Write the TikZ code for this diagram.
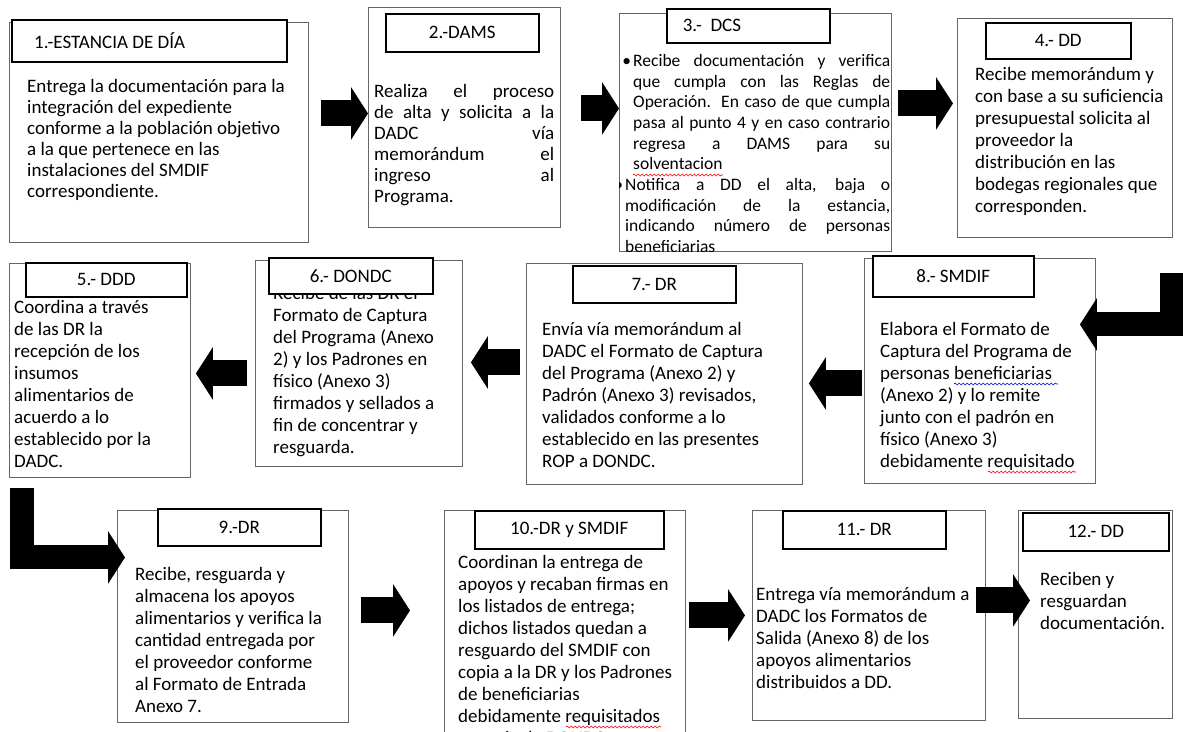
\documentclass[tikz,border=0pt]{standalone}
\usepackage{fontspec}
\setmainfont{Carlito}
\usetikzlibrary{arrows.meta, decorations.pathmorphing}
\setlength{\parindent}{0pt}

\begin{document}
\begin{tikzpicture}[
    x=1pt, y=-1pt,
    stepframe/.style={draw=black!60, line width=0.9pt, anchor=north west, inner sep=0pt},
    stephead/.style={draw=black, line width=1.5pt, fill=white, anchor=north west, inner sep=0pt, font=\fontsize{19}{22}\selectfont},
    steptext/.style={anchor=north west, inner sep=0pt, align=left, font=\fontsize{19}{22}\selectfont},
    fatarrow/.style={line width=26pt, -{Triangle[length=17pt, width=52pt]}},
    squiggle/.style={decorate, decoration={snake, segment length=4pt, amplitude=1pt}, line width=0.6pt}
]
    \useasboundingbox (0,0) rectangle (1183,731);
    \clip (0,0) rectangle (1183,731);

    % Frames
    \node[stepframe, minimum width=299pt, minimum height=220pt] (estancia) at (9,22) {};
    \node[stepframe, minimum width=192pt, minimum height=220pt] (dams) at (368,7) {};
    \node[stepframe, minimum width=272pt, minimum height=238pt] (dcs) at (619,13) {};
    \node[stepframe, minimum width=215pt, minimum height=219pt] (dd) at (957,18) {};
    \node[stepframe, minimum width=181pt, minimum height=214pt] (ddd) at (9,263) {};
    \node[stepframe, minimum width=207pt, minimum height=206pt] (dondc) at (255,260) {};
    \node[stepframe, minimum width=276pt, minimum height=221pt] (dr) at (526,263) {};
    \node[stepframe, minimum width=231pt, minimum height=225pt] (smdif) at (864,258) {};
    \node[stepframe, minimum width=231pt, minimum height=212pt] (drrec) at (117,510) {};
    \node[stepframe, minimum width=241pt, minimum height=240pt] (drsmdif) at (444,510) {};
    \node[stepframe, minimum width=233pt, minimum height=210pt] (drsal) at (752,510) {};
    \node[stepframe, minimum width=154pt, minimum height=208pt] (ddrec) at (1018,510) {};

    % Texts
    \node[steptext, font=\fontsize{19}{21}\selectfont] (estanciatxt) at ([xshift=18pt, yshift=-57pt]estancia.north west)
        {Entrega la documentación para la\\integración del expediente\\conforme a la población objetivo\\a la que pertenece en las\\instalaciones del SMDIF\\correspondiente.};
    \node[steptext, text width=180pt, align=justify, font=\fontsize{19}{21}\selectfont] (damstxt) at ([xshift=6pt, yshift=-77pt]dams.north west)
        {\tolerance=10000 Realiza el proceso\linebreak de alta y solicita a la\linebreak DADC vía\linebreak memorándum el\linebreak ingreso al\linebreak Programa.};
    \begin{scope}
        \clip (dcs.north west) rectangle (dcs.south east);
        \node[steptext, text width=265pt, align=justify, font=\fontsize{17.5}{20.7}\selectfont] (dcstxt) at ([xshift=6pt, yshift=-41pt]dcs.north west)
            {\tolerance=10000 \leftskip=8pt
            \leavevmode\llap{\textbullet\hspace{2pt}}Recibe documentación y verifica\linebreak que cumpla con las Reglas de\linebreak Operación. En caso de que cumpla\linebreak pasa al punto 4 y en caso contrario\linebreak regresa a DAMS para su\linebreak solventacion\par
            \leavevmode\llap{\textbullet\hspace{2pt}}Notifica a DD el alta, baja o\linebreak modificación de la estancia,\linebreak indicando número de personas\linebreak beneficiarias};
    \end{scope}
    \node[steptext] (ddtxt) at ([xshift=18pt, yshift=-49pt]dd.north west)
        {Recibe memorándum y\\con base a su suficiencia\\presupuestal solicita al\\proveedor la\\distribución en las\\bodegas regionales que\\corresponden.};
    \node[steptext] (dddtxt) at ([xshift=5pt, yshift=-37pt]ddd.north west)
        {Coordina a través\\de las DR la\\recepción de los\\insumos\\alimentarios de\\acuerdo a lo\\establecido por la\\DADC.};
    \node[steptext] (dondctxt) at ([xshift=18pt, yshift=-26pt]dondc.north west)
        {Recibe de las DR el\\Formato de Captura\\del Programa (Anexo\\2) y los Padrones en\\físico (Anexo 3)\\firmados y sellados a\\fin de concentrar y\\resguarda.};
    \node[steptext] (drtxt) at ([xshift=16pt, yshift=-59pt]dr.north west)
        {Envía vía memorándum al\\DADC el Formato de Captura\\del Programa (Anexo 2) y\\Padrón (Anexo 3) revisados,\\validados conforme a lo\\establecido en las presentes\\ROP a DONDC.};
    \node[steptext] (smdiftxt) at ([xshift=16pt, yshift=-64pt]smdif.north west)
        {Elabora el Formato de\\Captura del Programa de\\personas beneficiarias\\(Anexo 2) y lo remite\\junto con el padrón en\\físico (Anexo 3)\\debidamente requisitado};
    \node[steptext] (drrectxt) at ([xshift=18pt, yshift=-57pt]drrec.north west)
        {Recibe, resguarda y\\almacena los apoyos\\alimentarios y verifica la\\cantidad entregada por\\el proveedor conforme\\al Formato de Entrada\\Anexo 7.};
    \node[steptext] (drsmdiftxt) at ([xshift=14pt, yshift=-45pt]drsmdif.north west)
        {Coordinan la entrega de\\apoyos y recaban firmas en\\los listados de entrega;\\dichos listados quedan a\\resguardo del SMDIF con\\copia a la DR y los Padrones\\de beneficiarias\\debidamente requisitados\\a través de DONDC.};
    \node[steptext] (drsaltxt) at ([xshift=4pt, yshift=-77pt]drsal.north west)
        {Entrega vía memorándum a\\DADC los Formatos de\\Salida (Anexo 8) de los\\apoyos alimentarios\\distribuidos a DD.};
    \node[steptext] (ddrectxt) at ([xshift=22pt, yshift=-62pt]ddrec.north west)
        {Reciben y\\resguardan\\documentación.};

    % Spelling marks
    \draw[squiggle, red] ([xshift=8pt, yshift=-121pt]dcstxt.north west) -- ++(90,0);
    \draw[squiggle, blue] ([xshift=74pt, yshift=-62pt]smdiftxt.north west) -- ++(104,0);
    \draw[squiggle, red] ([xshift=108pt, yshift=-150pt]smdiftxt.north west) -- ++(88,0);
    \draw[squiggle, red] ([xshift=108pt, yshift=-172pt]drsmdiftxt.north west) -- ++(95,0);

    % Headers
    \node[stephead, minimum width=275pt, minimum height=42pt] (estanciahd) at ([xshift=2pt, yshift=3pt]estancia.north west) {\makebox[230pt][l]{1.-ESTANCIA DE DÍA}};
    \node[stephead, minimum width=153pt, minimum height=38pt] (damshd) at ([xshift=17pt, yshift=-6pt]dams.north west) {2.-DAMS};
    \node[stephead, minimum width=163pt, minimum height=34pt] (dcshd) at ([xshift=47pt, yshift=5pt]dcs.north west) {\makebox[131pt][l]{3.-\ \ DCS}};
    \node[stephead, minimum width=145pt, minimum height=36pt] (ddhd) at ([xshift=28pt, yshift=-4pt]dd.north west) {4.- DD};
    \node[stephead, minimum width=161pt, minimum height=34pt] (dddhd) at ([xshift=16pt, yshift=1pt]ddd.north west) {5.- DDD};
    \node[stephead, minimum width=164pt, minimum height=36pt] (dondchd) at ([xshift=13pt, yshift=3pt]dondc.north west) {6.- DONDC};
    \node[stephead, minimum width=163pt, minimum height=37pt] (drhd) at ([xshift=46pt, yshift=-2pt]dr.north west) {7.- DR};
    \node[stephead, minimum width=161pt, minimum height=41pt] (smdifhd) at ([xshift=8pt, yshift=3pt]smdif.north west) {8.- SMDIF};
    \node[stephead, minimum width=163pt, minimum height=37pt] (drrechd) at ([xshift=40pt, yshift=2pt]drrec.north west) {9.-DR};
    \node[stephead, minimum width=189pt, minimum height=38pt] (drsmdifhd) at ([xshift=30pt]drsmdif.north west) {10.-DR y SMDIF};
    \node[stephead, minimum width=163pt, minimum height=38pt] (drsalhd) at ([xshift=30pt]drsal.north west) {11.- DR};
    \node[stephead, minimum width=146pt, minimum height=38pt] (ddrechd) at ([xshift=4pt, yshift=-2pt]ddrec.north west) {12.- DD};

    % Arrows
    \draw[fatarrow] ([xshift=12pt, yshift=19pt]estancia.east) -- ([yshift=4pt]dams.west);
    \draw[fatarrow] ([xshift=20pt, yshift=9pt]dams.east) -- ([yshift=24pt]dcs.west);
    \draw[fatarrow] ([xshift=6pt, yshift=29pt]dcs.east) -- ([xshift=-4pt, yshift=24.5pt]dd.west);
    \coordinate (bendtop) at (1172,273);
    \draw[fatarrow, line width=24pt] (bendtop) |- ([xshift=-16pt, yshift=46.5pt]smdif.east);
    \draw[fatarrow] ([xshift=-2pt, yshift=-12.5pt]smdif.west) -- ([xshift=6pt, yshift=-9.5pt]dr.east);
    \draw[fatarrow] ([xshift=-6pt, yshift=11.5pt]dr.west) -- ([xshift=8pt, yshift=1pt]dondc.east);
    \draw[fatarrow] ([xshift=-8pt, yshift=-10pt]dondc.west) -- ([xshift=5pt, yshift=-3pt]ddd.east);
    \coordinate (bendleft) at (22,488);
    \draw[fatarrow, line width=24pt] (bendleft) |- ([xshift=8pt, yshift=59pt]drrec.west);
    \draw[fatarrow] ([xshift=12pt, yshift=6pt]drrec.east) -- ([xshift=-34pt, yshift=20pt]drsmdif.west);
    \draw[fatarrow] ([xshift=3pt, yshift=15pt]drsmdif.east) -- ([xshift=-7pt]drsal.west);
    \draw[fatarrow] ([xshift=-10pt, yshift=15pt]drsal.east) -- ([xshift=12pt, yshift=14pt]ddrec.west);
\end{tikzpicture}
\end{document}
